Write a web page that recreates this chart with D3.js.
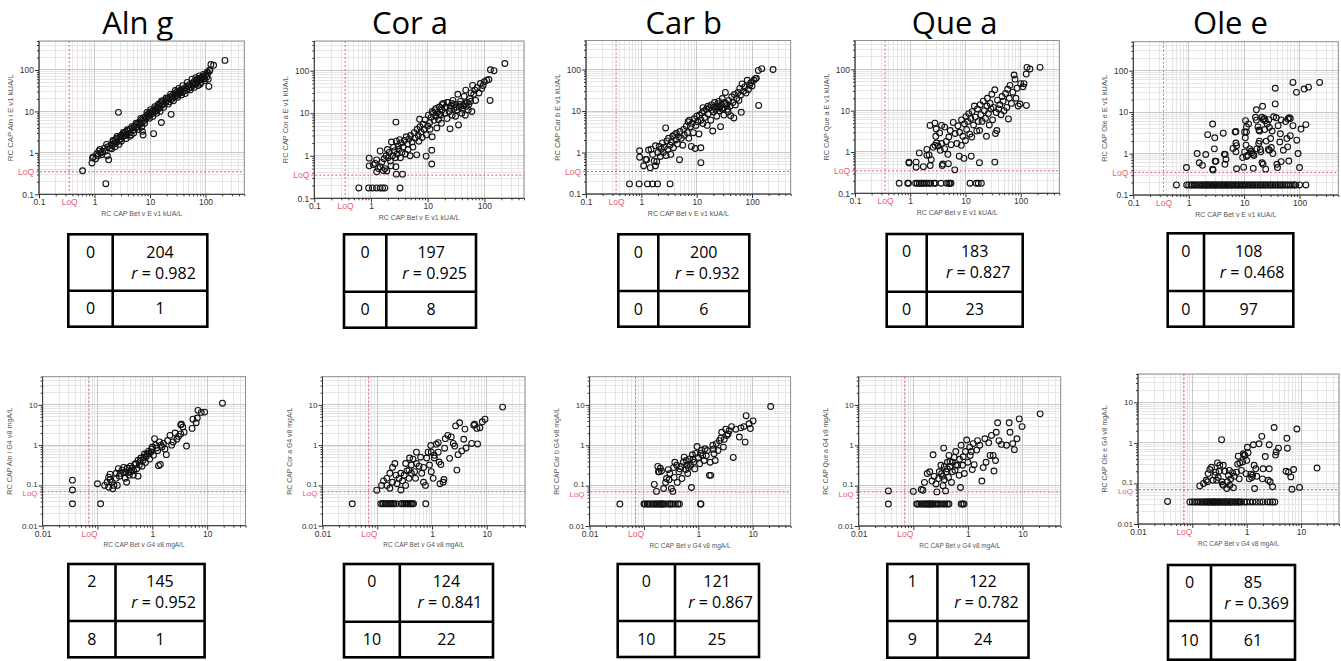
<!DOCTYPE html>
<html><head><meta charset="utf-8">
<script src="https://cdn.jsdelivr.net/npm/d3@7"></script>
<style>body{margin:0;background:#fff}svg{display:block;background:#fff}</style>
</head><body><svg id="c" width="1341" height="661"></svg>
<script>
// ---------- labels ----------
const titles = ["Aln g", "Cor a", "Car b", "Que a", "Ole e"];
const yAllergen = ["Aln i", "Cor a", "Car b", "Que a", "Ole e"];
const topXLabel = "RC CAP Bet v E v1 kUA/L";
const botXLabel = "RC CAP Bet v G4 v8 mgA/L";
const topYLabels = yAllergen.map(a => "RC CAP " + a + " E v1 kUA/L");
const botYLabels = yAllergen.map(a => "RC CAP " + a + " G4 v8 mgA/L");
const topLoQ = 0.35, botLoQ = 0.07;
const topCensoredY = 0.175, botCensoredY = 0.035;
const topDomain = [0.1, 500], botDomain = [0.01, 50];
const topXTicks = [0.1, 1, 10, 100], topYTicks = [0.1, 1, 10, 100];
const botXTicks = [0.01, 1, 10], botYTicks = [0.01, 0.1, 1, 10];
// tables: [upper-left, upper-right n, r, lower-left, lower-right]
const topTables = [[0,204,"0.982",0,1],[0,197,"0.925",0,8],[0,200,"0.932",0,6],[0,183,"0.827",0,23],[0,108,"0.468",0,97]];
const botTables = [[2,145,"0.952",8,1],[0,124,"0.841",10,22],[0,121,"0.867",10,25],[1,122,"0.782",9,24],[0,85,"0.369",10,61]];

// ---------- data (x = Bet v, y = allergen) ----------
const alnTop = [[0.61,0.37],[0.9,0.57],[0.92,0.75],[0.95,0.8],[1.1,0.95],[1.2,1.1],[1.3,1.0],[1.25,1.2],[1.4,1.05],[1.5,1.3],[1.6,0.18],[1.7,0.85],[1.8,0.68],[1.75,1.4],[1.9,1.3],[2.0,1.6],[2.1,1.5],[2.2,1.9],[2.3,1.7],[2.4,2.1],[2.5,1.8],[2.6,2.3],[2.7,9.5],[2.8,2.0],[2.9,2.5],[3.0,2.2],[3.1,2.7],[3.2,2.4],[3.4,2.9],[3.5,2.6],[3.6,3.2],[3.8,2.8],[4.0,3.4],[4.2,3.0],[4.4,3.7],[4.6,2.7],[4.8,3.9],[5.0,3.5],[5.2,4.4],[5.5,4.0],[5.8,4.9],[6.0,4.3],[6.3,5.4],[6.6,4.8],[7.0,6.2],[7.2,5.3],[7.3,3.3],[7.5,2.7],[7.6,7.0],[7.9,6.0],[8.2,7.4],[8.6,6.7],[9.0,8.3],[9.3,7.5],[9.6,9.0],[10,8.2],[10.5,9.8],[11,8.9],[11.6,2.9],[11.5,10.5],[12,9.5],[12.5,11.8],[13,10.6],[13.5,12.8],[14,11.5],[14.5,13.9],[15,12.3],[15.5,16],[16,5.4],[16.5,14],[17,17.5],[18,15.2],[18.5,19],[19,16.5],[20,18],[21,20.5],[22,17],[23,22],[24,8.5],[24.5,19.5],[25,24],[26,21],[27,26.5],[28,22.5],[29,28],[30,24],[31,30],[32,26],[34,31],[35,28],[36,33],[38,29],[40,35],[42,31],[44,38],[46,34],[48,41],[50,36],[52,45],[55,38],[58,48],[60,43],[62,52],[65,46],[68,56],[70,50],[72,60],[75,54],[78,62],[80,45],[82,58],[85,66],[88,60],[90,70],[95,63],[100,75],[105,68],[110,82],[115,40],[118,95],[120,100],[125,135],[140,130],[224,170],
[1.05,0.72],[1.15,0.85],[1.35,0.9],[1.55,1.1],[1.65,1.6],[2.05,1.25],[2.15,2.0],[2.35,1.4],[2.55,2.5],[2.75,1.6],[3.05,1.9],[3.3,3.1],[3.7,2.2],[3.9,3.6],[4.3,2.5],[4.7,4.3],[5.1,3.0],[5.6,5.2],[6.2,3.7],[6.8,6.8],[7.1,4.2],[8.0,5.2],[8.8,9.5],[9.8,6.8],[10.2,11],[11.2,7.5],[12.2,13],[13.2,9],[14.2,15],[15.2,10],[16.2,18],[17.5,12.5],[19.5,21],[21.5,15],[23.5,26],[26.5,18],[28.5,32],[31.5,22],[33,36],[37,25],[39,42],[43,27],[47,50],[53,33],[57,60],[63,38],[67,65],[73,42],[77,72],[83,50],[92,78],[98,55],[108,90],[112,60]];
const alnTopCensX = [];

const corTop = [[0.93,0.58],[0.93,0.88],[1.1,0.62],[1.18,0.66],[1.26,0.8],[1.26,0.42],[1.35,0.5],[1.45,0.55],[1.45,1.3],[1.55,0.7],[1.65,0.45],[1.7,0.85],[1.77,0.5],[1.85,1.0],[1.9,0.44],[1.95,1.4],[2.0,0.9],[2.1,1.2],[2.2,0.75],[2.25,0.58],[2.3,2.1],[2.4,1.0],[2.5,1.6],[2.6,1.3],[2.7,0.9],[2.75,0.55],[2.75,6.2],[2.8,0.37],[2.8,2.2],[2.9,1.1],[3.0,1.7],[3.1,1.4],[3.2,2.4],[3.3,0.9],[3.4,2.0],[3.5,1.2],[3.6,0.37],[3.7,1.6],[3.9,2.3],[4.0,1.1],[4.2,2.8],[4.4,1.9],[4.5,1.4],[4.7,2.5],[4.9,1.0],[5.0,3.0],[5.3,2.1],[5.5,1.6],[5.8,3.5],[6.0,2.6],[6.4,1.05],[6.5,4.2],[6.8,3.0],[7.0,2.2],[7.2,7.2],[7.3,4.8],[7.6,3.6],[8.0,2.7],[8.3,5.5],[8.6,4.2],[9.0,7.0],[9.4,0.98],[9.5,3.1],[10,5.0],[10.3,9.0],[10.8,6.0],[11,4.2],[11.5,8.0],[11.8,0.64],[11.8,1.35],[12,2.8],[12,11],[12.5,10],[13,6.8],[13.5,12],[14,8.5],[14,13],[14.5,4.5],[15,10.5],[15.5,7.0],[16,14],[16,9.5],[17,9.0],[17.5,5.8],[18,12],[18,16],[19,17],[20,10],[20,13.5],[21,14],[22,7.5],[22,18],[23,18],[24,11],[24.8,4.3],[25,13],[26,15],[27,9],[27,17],[28,20],[29,13],[30,16],[31,8.5],[32,14],[33,12],[34,28],[35,5.3],[36,14],[37,16],[38,19],[40,10],[41,12.5],[42,15],[44,25],[45,17],[46,9],[47,35],[48,14.5],[50,18],[52,12],[53,16],[55,22],[57,19],[58,30],[60,11],[62,45],[65,28],[68,35],[70,20],[75,40],[80,30],[85,50],[90,38],[95,45],[100,55],[110,60],[120,62],[126,20],[128,105],[148,100],[230,148]];
const corTopCensX = [0.61,0.91,1.06,1.25,1.45,1.6,1.75,3.25];

const carTop = [[0.93,1.1],[0.93,0.77],[1.1,0.48],[1.2,0.68],[1.25,0.67],[1.35,1.15],[1.45,0.43],[1.5,1.2],[1.6,0.9],[1.7,0.62],[1.8,0.48],[1.8,1.45],[1.9,0.6],[2.0,1.0],[2.1,1.4],[2.2,0.8],[2.3,1.2],[2.4,1.7],[2.5,1.0],[2.6,1.35],[2.75,3.9],[2.8,0.85],[2.9,1.9],[3.0,1.2],[3.1,2.2],[3.3,1.5],[3.4,0.9],[3.5,1.8],[3.7,2.5],[3.8,1.3],[4.0,2.7],[4.2,2.0],[4.3,2.9],[4.5,1.6],[4.7,2.4],[4.9,0.67],[5.0,3.2],[5.3,2.2],[5.6,1.5],[5.8,3.6],[6.0,2.6],[6.5,4.3],[6.8,3.0],[7.0,5.5],[7.2,2.2],[7.4,6.0],[7.7,4.2],[8.0,1.4],[8.3,5.0],[8.7,3.0],[9.0,6.5],[9.4,1.25],[9.7,4.5],[10,7.5],[10.5,5.5],[11,2.8],[11.2,8.0],[11.9,0.57],[11.9,1.3],[12,6.0],[12.5,9.0],[13,5.0],[13,12],[13.5,10],[14,7.0],[15,11],[15.5,4.5],[16,8.5],[16,13],[17,12],[18,6.0],[18.5,14],[19,10.5],[19.5,3.3],[20,9.5],[21,16],[21,12.5],[22,11],[23,7.5],[24,13],[24,15],[25,17],[26,10],[26,12],[27,4.2],[28,14],[29,20],[29,11],[30,12],[31,8],[32,16],[33,28],[34,15],[35,13.5],[36,11],[37,9.5],[38,18],[40,13],[41,7.7],[43,22],[45,16],[47,6.8],[48,25],[50,14],[53,20],[56,28],[58,18],[60,35],[62,24],[64,9.3],[66,45],[70,30],[74,38],[78,27],[82,55],[86,33],[90,42],[95,48],[100,40],[108,55],[115,60],[120,62],[130,95],[132,13.6],[150,105],[240,100]];
const carTopCensX = [0.61,0.91,1.29,1.6,1.96,3.3];

const queTop = [[0.95,0.57],[0.95,0.54],[1.28,0.43],[1.28,0.57],[1.73,0.44],[1.46,0.95],[2.0,1.16],[2.0,0.83],[2.2,0.85],[2.4,0.65],[2.3,0.47],[2.8,1.45],[3.0,1.65],[3.7,1.6],[3.8,0.47],[3.9,0.51],[4.9,0.52],[4.8,0.88],[4.2,1.2],[6.4,0.37],[7.7,0.79],[9.4,0.7],[12.7,0.79],[17.9,0.55],[34,0.57],[2.28,4.4],[2.8,5.0],[2.95,3.6],[3.7,4.4],[4.2,4.0],[3.4,2.9],[2.9,2.4],[5.3,3.3],[6.0,5.2],[2.6,1.3],[3.2,1.4],[3.5,1.1],[4.5,1.8],[5.0,2.3],[5.5,1.5],[6.5,2.8],[7.0,1.6],[7.3,4.3],[7.8,3.0],[8.4,1.45],[8.5,6.0],[9.0,2.4],[9.6,4.8],[10,1.9],[10.2,7.2],[10.5,3.5],[11,5.5],[11.5,8.5],[12,2.7],[12.5,6.5],[13,2.3],[13.2,9.5],[14,4.5],[14.5,13],[15,7.0],[16,3.2],[16.5,11],[17,5.5],[18,3.3],[18.5,14],[19,8],[20,5.5],[21,17],[22,10],[23,6.5],[24,2.4],[24.5,13],[25,20],[26,8.5],[27,4.5],[28,15],[29,11],[30,25],[31,6.0],[32,12],[34,32],[35,2.8],[36,9],[37,3.3],[38,18],[40,11],[42,14],[44,8],[46,22],[48,17],[50,10],[53,26],[56,12],[58,33],[60,6.3],[62,20],[64,41],[68,15],[72,28],[76,73],[79,58],[82,20],[86,35],[90,13],[97,14.5],[100,45],[110,38],[115,45],[126,77],[127,13.4],[130,112],[147,102],[224,112]];
const queTopCensX = [0.63,0.9,0.93,1.25,1.34,1.46,1.57,1.68,1.8,1.98,2.16,2.34,2.69,2.85,3.6,4.57,4.97,5.25,5.47,12.1,15.7,17.1,19.4];

const oleTop = [[0.91,0.46],[1.42,1.0],[1.55,0.6],[1.77,0.52],[2.03,0.95],[2.2,2.86],[2.7,5.15],[2.7,0.42],[2.75,0.4],[2.9,1.3],[2.95,2.4],[3.0,0.65],[3.1,0.65],[4.2,3.1],[4.4,0.97],[4.5,0.55],[4.7,0.73],[4.55,0.95],[6.3,1.33],[6.9,3.3],[7.1,3.4],[7.1,1.8],[7.3,1.55],[7.1,1.1],[7.3,0.43],[9.4,0.8],[9.8,0.47],[10.2,3.3],[10.5,2.4],[11,3.3],[10.6,6.2],[11,4.4],[12,5.2],[10.8,1.6],[10.2,1.1],[11,0.85],[11.6,0.91],[12.6,1.3],[13.4,1.15],[14.6,0.96],[15,0.9],[13.8,1.05],[14.6,0.44],[16.6,11.4],[16,7.5],[16.6,6.4],[17.8,4.4],[18.5,3.7],[18.3,1.75],[18.9,2.0],[19.6,1.25],[19,3.5],[21,7.5],[21.5,13.8],[22,6.6],[23,7.0],[24,6.2],[21,0.6],[22,0.55],[23.5,3.8],[24.5,0.42],[25,2.0],[27.4,1.25],[28,6.6],[28.5,4.3],[28.5,1.2],[30,2.3],[31,1.4],[32,3.5],[34,7.7],[36.4,37.7],[36.4,15.8],[38,7.3],[39,0.55],[40,0.46],[41,4.7],[44,1.9],[46.5,6.5],[46.5,0.64],[51,1.2],[56,5.9],[59,2.3],[62,6.8],[65,7.3],[68,7.0],[61,1.45],[64,0.66],[68,2.7],[76,4.7],[76,52],[88,30],[89,2.1],[94,1.0],[100,0.46],[106,3.9],[121,36],[145,40],[130,5.0],[230,52],[17,1.3],[20,1.1],[26,5.2],[33,1.0],[45,3.0]];
const oleTopCensX = [0.6,0.92,1.0,1.1,1.15,1.25,1.3,1.4,1.5,1.6,1.7,1.8,1.9,2.0,2.1,2.2,2.3,2.45,2.6,2.7,2.85,3.0,3.15,3.3,3.5,3.7,3.9,4.1,4.3,4.5,4.8,5.0,5.3,5.6,5.9,6.2,6.6,7.0,7.4,7.8,8.3,8.8,9.3,9.9,10.5,11.2,12,12.8,13.7,14.6,15.6,16.7,18,19.3,20.6,22,23.5,25,27,29,31,33,35.5,38,41,44,47,50,54,58,63,68,74,80,85,100,130];

const alnBot = [[0.035,0.135],[0.035,0.077],[0.035,0.035],[0.114,0.035],[0.1,0.11],[0.135,0.1],[0.15,0.12],[0.16,0.09],[0.17,0.14],[0.17,0.19],[0.19,0.083],[0.2,0.1],[0.22,0.15],[0.23,0.1],[0.24,0.26],[0.26,0.2],[0.3,0.21],[0.32,0.15],[0.34,0.12],[0.37,0.21],[0.4,0.3],[0.42,0.24],[0.45,0.18],[0.48,0.33],[0.52,0.26],[0.55,0.17],[0.6,0.4],[0.65,0.3],[0.7,0.5],[0.75,0.37],[0.8,0.6],[0.9,0.45],[0.97,0.8],[1.05,0.56],[1.1,1.45],[1.15,1.0],[1.25,0.73],[1.3,0.31],[1.4,0.33],[1.45,1.0],[1.6,1.1],[1.7,0.8],[1.8,0.58],[1.9,1.3],[2.1,1.75],[2.25,1.0],[2.4,1.2],[2.6,2.0],[2.8,1.4],[3.0,1.65],[3.3,3.2],[3.4,3.3],[3.6,2.8],[4.2,0.95],[5.3,2.6],[5.5,4.4],[6.8,7.3],[7.8,6.5],[9,6.6],[6.6,4.7],[6.3,3.6],[19,11],[3.3,1.9],[3.8,2.1],[0.28,0.24],[0.3,0.28],[0.33,0.22],[0.35,0.27],[0.38,0.18],[0.4,0.22],[0.43,0.27],[0.46,0.23],[0.5,0.35],[0.55,0.42],[0.58,0.32],[0.62,0.48],[0.68,0.42],[0.72,0.6],[0.78,0.52],[0.85,0.7],[0.88,0.62],[0.95,0.68],[1.0,0.9],[1.2,0.85],[1.35,1.2],[1.5,0.9],[0.25,0.17],[0.22,0.2],[0.18,0.12],[0.16,0.16]];
const alnBotCensX = [];

const corBot = [[0.035,0.035],[0.098,0.076],[0.12,0.1],[0.13,0.13],[0.15,0.15],[0.15,0.1],[0.17,0.2],[0.17,0.085],[0.19,0.12],[0.19,0.28],[0.21,0.35],[0.22,0.18],[0.23,0.11],[0.25,0.15],[0.27,0.077],[0.27,0.2],[0.29,0.13],[0.31,0.18],[0.33,0.1],[0.33,0.35],[0.35,0.23],[0.38,0.15],[0.38,0.24],[0.39,0.48],[0.42,0.2],[0.42,0.32],[0.45,0.45],[0.48,0.22],[0.5,0.15],[0.52,0.35],[0.52,0.67],[0.58,0.3],[0.62,0.5],[0.65,0.2],[0.7,0.12],[0.7,0.28],[0.76,0.1],[0.8,0.48],[0.85,0.67],[0.9,0.32],[0.95,0.98],[0.97,0.22],[0.97,0.67],[1.05,0.15],[1.1,0.48],[1.1,0.56],[1.2,1.05],[1.3,0.67],[1.3,1.15],[1.35,0.38],[1.4,0.11],[1.45,0.33],[1.6,0.12],[1.65,0.14],[1.7,0.84],[1.75,1.45],[1.95,1.75],[2.1,0.47],[2.25,1.6],[2.45,1.1],[2.6,0.95],[2.7,3.0],[2.85,0.24],[3.0,0.58],[3.2,3.6],[3.5,0.72],[3.8,1.4],[4.0,2.5],[4.2,0.85],[5.3,1.1],[5.8,3.1],[6.0,3.3],[6.6,2.6],[6.8,1.07],[7.5,2.7],[8.3,3.8],[9.3,4.4],[19.5,8.8]];
const corBotCensX = [0.116,0.125,0.13,0.14,0.15,0.16,0.17,0.18,0.19,0.2,0.22,0.27,0.29,0.31,0.33,0.35,0.37,0.4,0.42,0.44,0.46,0.77];

const carBot = [[0.036,0.035],[0.155,0.107],[0.17,0.072],[0.18,0.3],[0.185,0.22],[0.19,0.22],[0.21,0.23],[0.23,0.085],[0.25,0.12],[0.26,0.15],[0.29,0.14],[0.3,0.2],[0.32,0.085],[0.34,0.072],[0.36,0.16],[0.37,0.38],[0.4,0.32],[0.41,0.12],[0.44,0.22],[0.46,0.26],[0.5,0.15],[0.53,0.38],[0.55,0.51],[0.59,0.25],[0.62,0.32],[0.64,0.2],[0.69,0.46],[0.72,0.32],[0.75,0.09],[0.78,0.58],[0.82,0.38],[0.86,0.26],[0.9,0.63],[0.95,0.93],[1.0,0.5],[1.06,0.35],[1.1,0.63],[1.2,0.56],[1.28,0.42],[1.33,0.82],[1.47,0.74],[1.6,0.18],[1.65,0.38],[1.7,0.18],[1.85,1.0],[1.95,0.62],[2.05,0.42],[2.15,1.1],[2.3,0.74],[2.45,1.3],[2.6,1.5],[2.7,2.1],[2.9,0.9],[3.0,1.4],[3.2,2.5],[3.35,1.75],[3.55,1.9],[3.7,2.3],[4.1,2.9],[4.4,0.5],[4.9,2.5],[5.7,1.6],[6.1,2.7],[6.9,2.9],[7.3,1.2],[7.6,5.4],[8.6,3.4],[9.1,2.6],[10.2,4.0],[21.5,9.1],[0.2,0.27],[0.28,0.25],[0.35,0.28],[0.48,0.3],[0.6,0.42],[0.66,0.28],[0.8,0.45],[1.15,0.75],[1.4,0.55],[1.9,0.8]];
const carBotCensX = [0.1,0.105,0.115,0.12,0.13,0.14,0.15,0.16,0.17,0.18,0.19,0.2,0.21,0.22,0.23,0.25,0.28,0.3,0.32,0.34,0.38,0.42,0.45,1.1,1.12];

const queBot = [[0.035,0.074],[0.035,0.035],[0.1,0.072],[0.14,0.08],[0.15,0.077],[0.16,0.12],[0.18,0.2],[0.2,0.22],[0.22,0.13],[0.23,0.58],[0.24,0.17],[0.26,0.11],[0.27,0.07],[0.29,0.15],[0.3,0.22],[0.32,0.32],[0.34,0.17],[0.35,0.1],[0.36,0.85],[0.37,0.14],[0.39,0.074],[0.4,0.22],[0.42,0.38],[0.44,0.16],[0.45,0.56],[0.47,0.3],[0.5,0.12],[0.52,0.38],[0.56,0.5],[0.58,0.24],[0.6,0.7],[0.65,0.32],[0.69,0.18],[0.73,0.09],[0.75,1.0],[0.8,0.32],[0.82,0.52],[0.86,0.2],[0.9,0.7],[0.95,1.35],[1.0,0.38],[1.08,0.9],[1.1,0.56],[1.2,0.25],[1.25,1.1],[1.3,0.33],[1.45,0.76],[1.5,1.3],[1.65,1.0],[1.8,0.13],[1.9,0.28],[2.05,1.45],[2.15,0.38],[2.4,1.15],[2.55,0.56],[2.7,1.75],[2.9,0.56],[3.0,0.23],[3.2,0.42],[3.3,2.1],[3.5,3.6],[3.7,1.3],[4.1,1.05],[5.1,1.0],[5.7,3.6],[5.9,2.1],[6.6,1.1],[7.1,0.78],[7.9,1.45],[8.7,4.5],[9.8,2.9],[21,6.0],[0.6,0.32],[0.47,0.4],[0.37,0.3],[0.52,0.22],[0.42,0.26],[0.33,0.2],[0.7,0.45],[1.15,0.7]];
const queBotCensX = [0.115,0.12,0.13,0.14,0.15,0.16,0.17,0.18,0.19,0.2,0.21,0.22,0.23,0.25,0.27,0.29,0.32,0.35,0.38,0.42,0.45,0.75,0.8,0.85];

const oleBot = [[0.035,0.036],[0.137,0.087],[0.16,0.1],[0.18,0.12],[0.195,0.175],[0.19,0.11],[0.21,0.22],[0.225,0.25],[0.24,0.12],[0.26,0.16],[0.27,0.19],[0.28,0.12],[0.29,0.32],[0.3,0.14],[0.31,0.2],[0.32,0.28],[0.345,1.2],[0.35,0.11],[0.36,0.095],[0.37,0.09],[0.37,0.28],[0.4,0.2],[0.43,0.075],[0.44,0.11],[0.46,0.16],[0.48,0.21],[0.49,0.09],[0.51,0.13],[0.55,0.185],[0.57,0.078],[0.59,0.15],[0.65,0.19],[0.68,0.3],[0.7,0.47],[0.73,0.13],[0.75,0.32],[0.8,0.21],[0.84,0.34],[0.87,0.54],[0.9,0.5],[0.93,0.49],[0.97,0.175],[1.0,0.37],[1.03,0.78],[1.06,0.57],[1.12,0.13],[1.19,0.17],[1.24,0.14],[1.29,0.16],[1.33,0.9],[1.37,0.28],[1.4,0.075],[1.47,0.23],[1.53,0.15],[1.69,0.95],[1.9,1.45],[1.95,0.13],[2.0,0.23],[2.2,0.46],[2.5,0.12],[2.6,0.9],[2.7,0.11],[2.6,0.23],[3.0,0.083],[3.2,2.4],[3.4,0.5],[3.5,0.6],[3.85,0.74],[5.5,1.3],[5.6,0.74],[5.3,0.2],[5.9,0.19],[6.5,0.145],[6.8,0.072],[7.3,0.22],[8.4,2.2],[9.4,0.08],[19.7,0.24]];
const oleBotCensX = [0.09,0.1,0.11,0.12,0.13,0.14,0.15,0.16,0.17,0.18,0.19,0.2,0.21,0.22,0.23,0.24,0.25,0.26,0.27,0.28,0.3,0.31,0.33,0.35,0.37,0.39,0.41,0.43,0.45,0.48,0.5,0.53,0.56,0.6,0.64,0.68,0.72,0.75,0.8,0.9,1.0,1.15,1.3,1.5,1.75,2.0,2.4,2.7,3.0,3.3];

const topData = [alnTop, corTop, carTop, queTop, oleTop];
const topCens = [alnTopCensX, corTopCensX, carTopCensX, queTopCensX, oleTopCensX];
const botData = [alnBot, corBot, carBot, queBot, oleBot];
const botCens = [alnBotCensX, corBotCensX, carBotCensX, queBotCensX, oleBotCensX];

// ---------- layout (pixel geometry) ----------
const topPlots = [[39,244.3,41,194.3],[314.3,524,41,198.3],[586,790.7,40.5,194],[855,1059.3,40.5,193.3],[1133.3,1338.3,41.7,195]];
const botPlots = [[42.6,245.5,376.7,525.7],[322.5,525,376.7,525.7],[589.6,790.6,376.7,526],[858.7,1060.7,376.7,526],[1138,1339,374,524]];
// table boxes: left, mid, right, top, midH, bottom
const topBoxes = [[68.3,112.7,207.3,234.3,290.7,326.7],[344,386.3,476,234.3,291.7,327.7],[618.3,658.3,749.3,234.3,291,326.7],[886.7,926.7,1022.7,234,291.7,326.7],[1167.7,1204,1293.3,233.3,291,326.7]];
const botBoxes = [[68.3,115.5,204.6,564,621,657.3],[344,399.8,493,564,621.7,657.3],[617.7,675,759,564,621,657],[887.3,937.4,1028.5,564,621,657.7],[1168,1211,1295,565,621,659.7]];

const svg = d3.select("#c");
const PINK = "#ee5a78";
const TICKFONT = "Liberation Sans, Arial, sans-serif";
const isMajor = v => Math.abs(Math.log10(v) - Math.round(Math.log10(v))) < 1e-9;

function drawPanel(box, dom, loq, censY, pts, censX, xTicks, yTicks, xLab, yLab, labOff) {
  const [x0, x1, y0, y1] = box;
  const x = d3.scaleLog().domain(dom).range([x0, x1]);
  const y = d3.scaleLog().domain(dom).range([y1, y0]);
  const g = svg.append("g");
  const all = x.ticks(20).filter(v => v >= dom[0] && v <= dom[1]);
  const minor = all.filter(v => !isMajor(v)), major = all.filter(isMajor);
  const grid = (vals, col) => {
    g.append("g").selectAll("line").data(vals).join("line")
      .attr("x1", d => x(d)).attr("x2", d => x(d)).attr("y1", y0).attr("y2", y1)
      .attr("stroke", col).attr("stroke-width", 1).attr("shape-rendering", "crispEdges");
    g.append("g").selectAll("line").data(vals).join("line")
      .attr("y1", d => y(d)).attr("y2", d => y(d)).attr("x1", x0).attr("x2", x1)
      .attr("stroke", col).attr("stroke-width", 1).attr("shape-rendering", "crispEdges");
  };
  grid(minor, "#e6e6e6");
  grid(major, "#c9c9c9");
  // LoQ lines
  g.append("line").attr("x1", x(loq)).attr("x2", x(loq)).attr("y1", y0).attr("y2", y1)
    .attr("stroke", PINK).attr("stroke-width", 1).attr("stroke-dasharray", "2,2");
  g.append("line").attr("y1", y(loq)).attr("y2", y(loq)).attr("x1", x0 - 3).attr("x2", x1)
    .attr("stroke", PINK).attr("stroke-width", 1).attr("stroke-dasharray", "2,2");
  // frame
  g.append("rect").attr("x", x0).attr("y", y0).attr("width", x1 - x0).attr("height", y1 - y0)
    .attr("fill", "none").attr("stroke", "#8f8f8f").attr("stroke-width", 1);
  // axes
  const styleAxis = s => { s.select(".domain").remove(); s.selectAll("line").attr("stroke", "#333"); };
  g.append("g").attr("transform", `translate(0,${y1})`).call(d3.axisBottom(x).tickValues(minor).tickSize(2).tickFormat("")).call(styleAxis);
  g.append("g").attr("transform", `translate(0,${y1})`).call(d3.axisBottom(x).tickValues(major).tickSize(4).tickFormat("")).call(styleAxis);
  g.append("g").attr("transform", `translate(${x0},0)`).call(d3.axisLeft(y).tickValues(minor).tickSize(2).tickFormat("")).call(styleAxis);
  g.append("g").attr("transform", `translate(${x0},0)`).call(d3.axisLeft(y).tickValues(major).tickSize(4).tickFormat("")).call(styleAxis);
  const fmt = d => d === loq ? "LoQ" : String(d);
  const xl = g.append("g").attr("transform", `translate(0,${y1})`)
    .call(d3.axisBottom(x).tickValues(xTicks.concat([loq])).tickSize(0).tickPadding(5).tickFormat(fmt));
  const yl = g.append("g").attr("transform", `translate(${x0},0)`)
    .call(d3.axisLeft(y).tickValues(yTicks.concat([loq])).tickSize(0).tickPadding(5).tickFormat(fmt));
  [xl, yl].forEach(a => {
    a.select(".domain").remove();
    a.selectAll("text").attr("font-family", TICKFONT).attr("font-size", 8.5)
      .attr("fill", d => d === loq ? PINK : "#333");
  });
  // keep the closely spaced y labels ("0.1" and "LoQ") from overlapping
  const gap = Math.abs(y(loq) - y(0.1));
  if (gap < 10) {
    yl.selectAll("text").attr("font-size", 8)
      .attr("dy", d => d === loq ? "0.52em" : (d === 0.1 ? "0.14em" : "0.32em"));
  }
  g.append("line").attr("x1", x0).attr("x2", x1).attr("y1", y1).attr("y2", y1).attr("stroke", "#333");
  g.append("line").attr("x1", x0).attr("x2", x0).attr("y1", y0).attr("y2", y1).attr("stroke", "#333");
  // axis titles
  g.append("text").attr("x", (x0 + x1) / 2).attr("y", y1 + 21.5).attr("text-anchor", "middle")
    .attr("font-family", TICKFONT).attr("font-size", 8).attr("fill", "#555")
    .attr("textLength", 81).attr("lengthAdjust", "spacingAndGlyphs").text(xLab);
  const yc = (y0 + y1) / 2;
  g.append("text").attr("transform", `translate(${x0 - labOff},${yc}) rotate(-90)`).attr("text-anchor", "middle")
    .attr("font-family", TICKFONT).attr("font-size", 8).attr("fill", "#555")
    .attr("textLength", 87).attr("lengthAdjust", "spacingAndGlyphs").text(yLab);
  // points
  const allPts = pts.concat(censX.map(v => [v, censY]));
  g.append("g").selectAll("circle").data(allPts).join("circle")
    .attr("cx", d => x(d[0])).attr("cy", d => y(d[1])).attr("r", 2.9)
    .attr("fill", "none").attr("stroke", "#111").attr("stroke-width", 1.1);
}

function drawTable(b, t) {
  const [L, M, R, T, H, B] = b;
  const g = svg.append("g");
  const F = "Open Sans, Noto Sans, sans-serif";
  g.append("rect").attr("x", L).attr("y", T).attr("width", R - L).attr("height", B - T)
    .attr("fill", "none").attr("stroke", "#000").attr("stroke-width", 2.6);
  g.append("line").attr("x1", M).attr("x2", M).attr("y1", T).attr("y2", B).attr("stroke", "#000").attr("stroke-width", 2.6);
  g.append("line").attr("x1", L).attr("x2", R).attr("y1", H).attr("y2", H).attr("stroke", "#000").attr("stroke-width", 2.6);
  const txt = (cx, cy, s) => g.append("text").attr("x", cx).attr("y", cy).attr("dy", "0.36em")
    .attr("text-anchor", "middle").attr("font-family", F).attr("font-size", 16).attr("fill", "#000").text(s);
  const lc = (L + M) / 2, rc = (M + R) / 2, bc = (H + B) / 2;
  txt(lc, T + 17.5, t[0]);
  txt(rc, T + 17.5, t[1]);
  const r = g.append("text").attr("x", rc + 3.5).attr("y", T + 38.5).attr("dy", "0.36em")
    .attr("text-anchor", "middle").attr("font-family", F).attr("font-size", 16).attr("fill", "#000");
  r.append("tspan").attr("font-style", "italic").text("r");
  r.append("tspan").text(" = " + t[2]);
  txt(lc, bc, t[3]);
  txt(rc, bc, t[4]);
}

for (let i = 0; i < 5; i++) {
  const tb = topBoxes[i];
  svg.append("text").attr("x", (tb[0] + tb[2]) / 2).attr("y", 34).attr("text-anchor", "middle")
    .attr("font-family", "Open Sans, Noto Sans, sans-serif").attr("font-size", 31).attr("fill", "#000").text(titles[i]);
  drawPanel(topPlots[i], topDomain, topLoQ, topCensoredY, topData[i], topCens[i], topXTicks, topYTicks, topXLabel, topYLabels[i], 26.5);
  drawPanel(botPlots[i], botDomain, botLoQ, botCensoredY, botData[i], botCens[i], botXTicks, botYTicks, botXLabel, botYLabels[i], 31);
  drawTable(topBoxes[i], topTables[i]);
  drawTable(botBoxes[i], botTables[i]);
}
</script>
</body></html>
